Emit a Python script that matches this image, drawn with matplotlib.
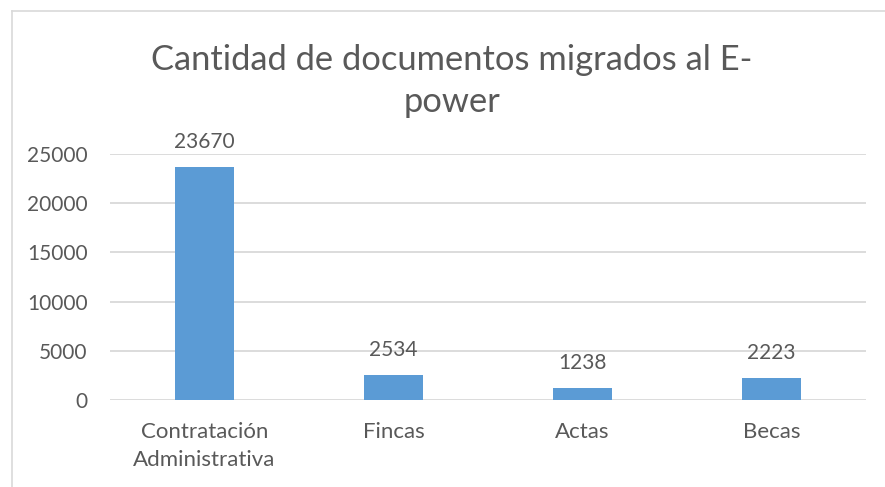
import matplotlib
matplotlib.use("Agg")
import matplotlib.pyplot as plt
from matplotlib.lines import Line2D

categories = ["Contratación\nAdministrativa", "Fincas", "Actas", "Becas"]
values = [23670, 2534, 1238, 2223]
yticks = [0, 5000, 10000, 15000, 20000, 25000]
title = "Cantidad de documentos migrados al E-\npower"

plt.rcParams['font.family'] = ['Lato', 'DejaVu Sans']
text_color = "#595959"
bar_color = "#5B9BD5"
grid_color = "#D9D9D9"

W, H = 885, 487
fig = plt.figure(figsize=(W / 100, H / 100), dpi=100)
ax = fig.add_axes([110 / W, 1 - 400 / H, (866 - 110) / W, (400 - 154) / H])

x = list(range(len(categories)))
bars = ax.bar(x, values, width=0.31, color=bar_color, zorder=3)
ax.set_xlim(-0.5, len(categories) - 0.5)
ax.set_ylim(0, 25000)
ax.set_yticks(yticks)
ax.set_yticklabels([str(v) for v in yticks])
ax.set_xticks(x)
ax.set_xticklabels(categories, linespacing=1.5, fontsize=16)

for b, v in zip(bars, values):
    ax.annotate(str(v), (b.get_x() + b.get_width() / 2, v), xytext=(0, 11),
                textcoords="offset points", ha="center", va="bottom",
                fontsize=15, color=text_color)

ax.yaxis.grid(True, color=grid_color, linewidth=1.3, zorder=0)
for s in ax.spines.values():
    s.set_visible(False)
ax.tick_params(axis="both", length=0, labelcolor=text_color)
ax.tick_params(axis="y", pad=16, labelsize=15)
ax.tick_params(axis="x", pad=16)

fig.text(452 / W, 1 - 81 / H, title, ha="center", va="center", fontsize=24.8,
         color=text_color, linespacing=1.38)

# chart border (left and top visible)
fig.add_artist(Line2D([11.5 / W, 11.5 / W], [0, 1 - 10.5 / H], color=grid_color, linewidth=1.2))
fig.add_artist(Line2D([11.5 / W, 1], [1 - 10.5 / H, 1 - 10.5 / H], color=grid_color, linewidth=1.2))

fig.savefig("out.png", dpi=100, facecolor="white")
